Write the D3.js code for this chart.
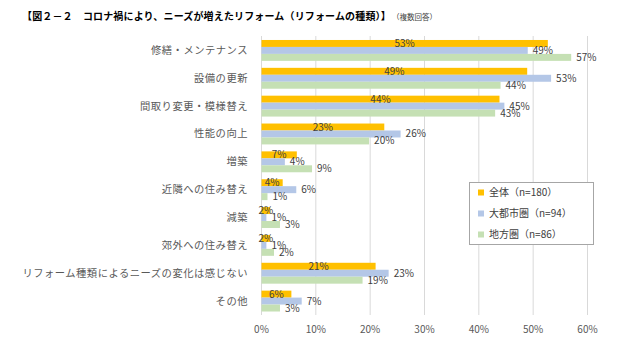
<!DOCTYPE html>
<html><head><meta charset="utf-8">
<script src="https://cdn.jsdelivr.net/npm/d3@7"></script>
<style>
body{margin:0;background:#fff;}
svg{display:block;font-family:"Noto Sans CJK JP","Noto Sans",sans-serif;}
</style></head>
<body><svg id="c" width="640" height="360"></svg>
<script>
const categories = ["修繕・メンテナンス","設備の更新","間取り変更・模様替え","性能の向上","増築","近隣への住み替え","減築","郊外への住み替え","リフォーム種類によるニーズの変化は感じない","その他"];
const seriesNames = ["全体（n=180）","大都市圏（n=94）","地方圏（n=86）"];
const total = [52.7,48.9,43.8,22.6,6.5,3.9,1.6,1.6,21.0,5.5];
const metro = [49.0,53.3,44.7,25.6,4.3,6.4,0.9,0.9,23.4,7.4];
const local = [57.0,44.0,43.0,19.8,9.3,1.1,3.4,2.3,18.6,3.4];
const xTicks = [0,10,20,30,40,50,60];
const colors = ["#FFC000","#B4C7E7","#C5E0B4"];
const title = "【図２－２　コロナ禍により、ニーズが増えたリフォーム（リフォームの種類）】";
const subtitle = "（複数回答）";

const series = [total, metro, local];
const svg = d3.select("#c");
const x = d3.scaleLinear().domain([0,60]).range([261.5,587.5]);
const y = d3.scaleBand().domain(categories).range([36.5,315]).paddingInner(0.25).paddingOuter(0.125);
const y2 = d3.scaleBand().domain([0,1,2]).range([0,y.bandwidth()]);

// title
svg.append("text").attr("x",22).attr("y",20).attr("font-size",10).attr("letter-spacing",0.15).attr("font-weight","bold").attr("fill","#000").text(title);
svg.append("text").attr("x",392).attr("y",20).attr("font-size",7.5).attr("fill","#404040").text(subtitle);

// grid
svg.append("g").selectAll("line").data(xTicks).join("line")
  .attr("x1",d=>x(d)).attr("x2",d=>x(d)).attr("y1",36).attr("y2",315)
  .attr("stroke","#d9d9d9").attr("stroke-width",1);

// x tick labels
svg.append("g").selectAll("text").data(xTicks).join("text")
  .attr("x",d=>x(d)).attr("y",333).attr("text-anchor","middle")
  .attr("font-size",10).attr("fill","#595959").text(d=>d+"%");

// category labels
svg.append("g").selectAll("text").data(categories).join("text")
  .attr("x",248).attr("y",d=>y(d)+y.bandwidth()/2+3.5).attr("text-anchor","end")
  .attr("font-size",10.3).attr("letter-spacing",0.5).attr("fill","#595959").text(d=>d);

// bars
series.forEach((vals,si)=>{
  const g = svg.append("g");
  g.selectAll("rect").data(vals).join("rect")
    .attr("x",x(0)).attr("y",(d,i)=>y(categories[i])+y2(si))
    .attr("width",d=>x(d)-x(0)).attr("height",y2.bandwidth())
    .attr("fill",colors[si]);
});
// labels
series.forEach((vals,si)=>{
  const g = svg.append("g");
  g.selectAll("text").data(vals).join("text")
    .attr("x",d=> si===0 ? (x(0)+x(d))/2 : x(d)+5)
    .attr("y",(d,i)=>y(categories[i])+y2(si)+y2.bandwidth()/2+3.5)
    .attr("text-anchor", si===0 ? "middle" : "start")
    .attr("font-size",10).attr("fill","#404040")
    .text(d=>Math.round(d)+"%");
});

// legend
const lg = svg.append("g");
lg.append("rect").attr("x",469.5).attr("y",182.5).attr("width",124).attr("height",62)
  .attr("fill","#fff").attr("stroke","#a6a6a6").attr("stroke-width",1);
seriesNames.forEach((n,i)=>{
  const cy = 192.5 + i*21;
  lg.append("rect").attr("x",478).attr("y",cy-3).attr("width",6).attr("height",6).attr("fill",colors[i]);
  lg.append("text").attr("x",489).attr("y",cy+3.5).attr("font-size",10).attr("fill","#404040").text(n);
});
</script></body></html>
